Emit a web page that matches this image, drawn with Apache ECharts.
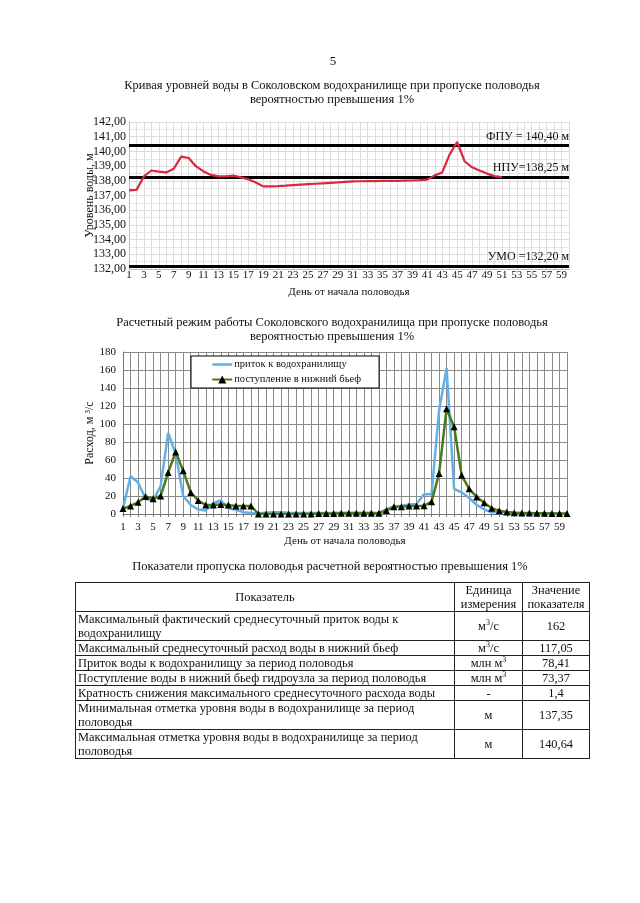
<!DOCTYPE html>
<html>
<head>
<meta charset="utf-8">
<script src="https://cdn.jsdelivr.net/npm/echarts@6/dist/echarts.min.js"></script>
<style>
html,body{margin:0;padding:0;background:#fff;}
#wrap{position:relative;width:640px;height:903px;overflow:hidden;}
#chart{position:absolute;left:0;top:0;width:640px;height:903px;}
#tbl{position:absolute;left:75px;top:582px;border-collapse:collapse;table-layout:fixed;
 font-family:"Liberation Serif","Times New Roman",serif;font-size:12.4px;line-height:14px;color:#111;}
#tbl td{border:1px solid #222;padding:0 2px;vertical-align:middle;overflow:hidden;white-space:nowrap;}
#tbl td.c{text-align:center;}
#tbl sup{font-size:8px;line-height:0;}
</style>
</head>
<body>
<div id="wrap">
<div id="chart"></div>
<table id="tbl">
<colgroup><col style="width:379px"><col style="width:68px"><col style="width:67px"></colgroup>
<tbody id="tb"></tbody>
</table>
</div>
<script>
// ---------- data ----------
const days = Array.from({length:60},(_,i)=>String(i+1));
const levelValues = [137.35,137.38,138.3,138.7,138.63,138.57,138.82,139.64,139.55,138.98,
 138.64,138.4,138.3,138.3,138.35,138.23,138.1,137.88,137.62,137.62,
 137.64,137.67,137.71,137.74,137.77,137.8,137.83,137.86,137.89,137.93,
 137.96,137.97,137.98,137.98,137.99,138.0,138.0,138.01,138.02,138.04,
 138.08,138.37,138.57,139.8,140.64,139.33,138.92,138.7,138.49,138.32,138.25];
const refLevels = [140.40, 138.25, 132.20];
const refLabels = ['ФПУ = 140,40 м', 'НПУ=138,25 м', 'УМО =132,20 м'];
const inflow = [6,42,35,17,15,31,90,67,20,10,
 5,4,12,15,6,5,2,1,0.5,1.5,
 2,2,1.5,1.2,1,1,1,1,1.2,1.5,
 1.5,1.5,1.5,1.5,1,5,8.5,9,10.5,11,
 22,22,115,162,28,24,18,10,5,1.8,
 2.5,1.8,1.3,1,0.8,0.6,0.5,0.5,0.4,0.4];
const outflow = [6,9,13,19.5,17,20,46,69,48,24,
 15,10,10,10.5,10,9,9,9,0,0,
 0,0,0,0,0,0,0.5,0.5,0.5,0.8,
 0.8,0.8,0.8,0.8,0.8,4,8,8,9,9,
 9.3,13.5,45,117.05,97,43,28,19,12.5,6.5,
 3.5,2.2,1.5,1.2,1,0.8,0.7,0.6,0.5,0.5];
const seriesNames = ['приток к водохранилищу', 'поступление в нижний бьеф'];
const pageNumber = '5';
const title1 = ['Кривая уровней воды в Соколовском водохранилище при пропуске половодья', 'вероятностью превышения 1%'];
const title2 = ['Расчетный режим работы Соколовского водохранилища при пропуске половодья', 'вероятностью превышения 1%'];
const tableTitle = 'Показатели пропуска половодья расчетной вероятностью превышения 1%';
const tableHeader = ['Показатель', 'Единица<br>измерения', 'Значение<br>показателя'];
const tableNames = ['Максимальный фактический среднесуточный приток воды к<br>водохранилищу',
 'Максимальный среднесуточный расход воды в нижний бьеф',
 'Приток воды к водохранилищу за период половодья',
 'Поступление воды в нижний бьеф гидроузла за период половодья',
 'Кратность снижения максимального среднесуточного расхода воды',
 'Минимальная отметка уровня воды в водохранилище за период<br>половодья',
 'Максимальная отметка уровня воды в водохранилище за период<br>половодья'];
const tableUnits = ['м<sup>3</sup>/с','м<sup>3</sup>/с','млн м<sup>3</sup>','млн м<sup>3</sup>','-','м','м'];
const tableValues = ['162','117,05','78,41','73,37','1,4','137,35','140,64'];
const rowHeights = [29,29,14,13,14,13,28,27];

// ---------- table ----------
const tb = document.getElementById('tb');
let html = '<tr style="height:'+rowHeights[0]+'px"><td class="c">'+tableHeader[0]+'</td><td class="c">'+tableHeader[1]+'</td><td class="c">'+tableHeader[2]+'</td></tr>';
tableNames.forEach((n,i)=>{
  html += '<tr style="height:'+rowHeights[i+1]+'px"><td>'+n+'</td><td class="c">'+tableUnits[i]+'</td><td class="c">'+tableValues[i]+'</td></tr>';
});
tb.innerHTML = html;

// ---------- chart ----------
const FONT = '"Liberation Serif","Times New Roman",serif';
const chart = echarts.init(document.getElementById('chart'), null, {renderer:'canvas'});
function txt(x,y,t,size){return {type:'text',x:x,y:y,style:{text:t,textAlign:'center',textVerticalAlign:'middle',font:size+'px '+FONT,fill:'#111'}};}
const fmtComma = v => v.toFixed(2).replace('.', ',');

chart.setOption({
  backgroundColor:'#fff',
  animation:false,
  graphic:[
    txt(333,62,pageNumber,13),
    txt(332,86,title1[0],12.5), txt(332,100,title1[1],12.5),
    txt(332,323,title2[0],12.5), txt(332,337,title2[1],12.5),
    txt(330,567,tableTitle,12.5)
  ],
  legend:{
    data:[
      {name:seriesNames[0], itemStyle:{color:'rgba(0,0,0,0)', borderWidth:0}, lineStyle:{color:'#62b0e6', width:2.5}},
      {name:seriesNames[1]}
    ],
    left:191, top:356, orient:'vertical',
    padding:[3,18,3,20], itemGap:4, itemWidth:20, itemHeight:10,
    borderColor:'#000', borderWidth:1, backgroundColor:'#fff', borderRadius:0,
    textStyle:{fontFamily:FONT,fontSize:10.5,color:'#111', padding:[0,0,0,-3]}
  },
  grid:[
    {left:129, top:122, width:440, height:147},
    {left:123, top:352, width:444, height:162}
  ],
  xAxis:[
    {gridIndex:0, type:'category', data:days, boundaryGap:false,
     name:'День от начала половодья', nameLocation:'middle', nameGap:18,
     nameTextStyle:{fontFamily:FONT,fontSize:11,color:'#111'},
     axisLine:{lineStyle:{color:'#bbb'}}, axisTick:{show:false},
     axisLabel:{interval:1, margin:1, fontFamily:FONT, fontSize:11, color:'#111'},
     splitLine:{show:true, interval:0, lineStyle:{color:'#dcdcdc', width:1}}},
    {gridIndex:1, type:'category', data:days, boundaryGap:false,
     name:'День от начала половодья', nameLocation:'middle', nameGap:22,
     nameTextStyle:{fontFamily:FONT,fontSize:11,color:'#111'},
     axisLine:{lineStyle:{color:'#777'}}, axisTick:{show:true, interval:0, length:3, lineStyle:{color:'#777'}},
     axisLabel:{interval:1, margin:8, fontFamily:FONT, fontSize:11, color:'#111'},
     splitLine:{show:true, interval:0, lineStyle:{color:'#8a8a8a', width:1}}}
  ],
  yAxis:[
    {gridIndex:0, type:'value', min:132, max:142, interval:1,
     name:'Уровень воды, м', nameLocation:'middle', nameGap:33, nameRotate:90, nameMoveOverlap:false,
     nameTextStyle:{fontFamily:FONT,fontSize:12,color:'#111'},
     axisLine:{show:true, lineStyle:{color:'#bbb'}}, axisTick:{show:false},
     axisLabel:{formatter:fmtComma, margin:3, fontFamily:FONT, fontSize:12, color:'#111'},
     splitLine:{lineStyle:{color:'#dcdcdc'}},
     minorTick:{show:false, splitNumber:2},
     minorSplitLine:{show:true, lineStyle:{color:'#e6e6e6'}}},
    {gridIndex:1, type:'value', min:0, max:180, interval:20,
     name:'Расход, м ³/с', nameLocation:'middle', nameGap:27, nameRotate:90, nameMoveOverlap:false,
     nameTextStyle:{fontFamily:FONT,fontSize:12,color:'#111'},
     axisLine:{show:true, lineStyle:{color:'#777'}}, axisTick:{show:false},
     axisLabel:{margin:7, fontFamily:FONT, fontSize:11, color:'#111'},
     splitLine:{lineStyle:{color:'#8a8a8a'}}}
  ],
  series:[
    {type:'line', xAxisIndex:0, yAxisIndex:0, data:levelValues, showSymbol:false, symbol:'none',
     lineStyle:{color:'#d9283e', width:2.2}, z:5,
     markLine:{silent:true, symbol:['none','none'],
       lineStyle:{color:'#000', width:3, type:'solid'},
       label:{show:true, position:'insideEndTop', distance:[0,3], fontFamily:FONT, fontSize:12, color:'#111',
         formatter:p=>refLabels[p.dataIndex]},
       data:refLevels.map(v=>({yAxis:v}))}},
    {name:seriesNames[0], type:'line', xAxisIndex:1, yAxisIndex:1, data:inflow, symbol:'none',
     lineStyle:{color:'#62b0e6', width:2.5}, itemStyle:{color:'#62b0e6'}, z:3},
    {name:seriesNames[1], type:'line', xAxisIndex:1, yAxisIndex:1, data:outflow,
     symbol:'triangle', symbolSize:7, showAllSymbol:true,
     lineStyle:{color:'#4b7a16', width:2.5}, itemStyle:{color:'#000'}, z:4}
  ]
});
</script>
</body>
</html>
